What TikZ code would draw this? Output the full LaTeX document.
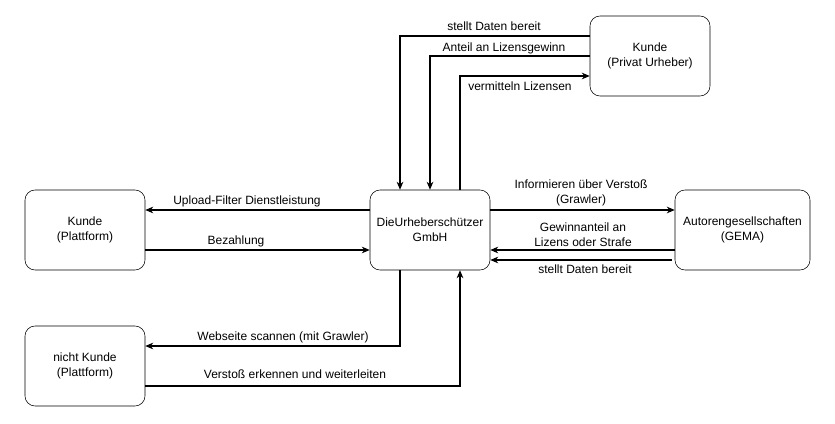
\documentclass[tikz,border=0pt]{standalone}
\usepackage{fontspec}
\setmainfont{Liberation Sans}
\usetikzlibrary{arrows.meta,calc}

\begin{document}
\begin{tikzpicture}[x=0.75pt,y=-0.75pt,
  box/.style={draw,rounded corners=7.5pt,minimum width=90pt,minimum height=60pt,align=center,font=\fontsize{9}{11.25}\selectfont},
  lbl/.style={align=center,inner sep=0pt,font=\fontsize{9}{11.25}\selectfont},
  arr/.style={-{Stealth[length=6pt,width=5pt]},line width=0.8pt}]
\useasboundingbox (0,0) rectangle (835,424);

\node[box] (privat) at (650,56) {Kunde\\(Privat Urheber)};
\node[box] (kp) at (85,230) {Kunde\\(Plattform)};
\node[box] (dus) at (430,230) {DieUrheberschützer\\GmbH};
\node[box,minimum width=101.25pt] (gema) at (742.5,230) {Autorengesellschaften\\(GEMA)};
\node[box] (nk) at (85,366) {nicht Kunde\\(Plattform)};

% oben: Privat Urheber
\draw[arr] ($(privat.west)+(0,-20)$) -| ($(dus.north)+(-30,0)$);
\draw[arr] (privat.west) -| (dus.north);
\draw[arr] ($(dus.north)+(30,0)$) |- ($(privat.west)+(0,20)$);
\node[lbl] (l1) at (494,26) {stellt Daten bereit};
\node[lbl] (l2) at (504,48) {Anteil an Lizensgewinn};
\node[lbl] (l3) at (520,86) {vermitteln Lizensen};

% links: Kunde Plattform
\draw[arr] ($(dus.west)+(0,-20)$) -- ($(kp.east)+(0,-20)$);
\draw[arr] ($(kp.east)+(0,20)$) -- ($(dus.west)+(0,20)$);
\node[lbl] (l4) at (247,201) {Upload-Filter Dienstleistung};
\node[lbl] (l5) at (236,241) {Bezahlung};

% rechts: GEMA
\draw[arr] ($(dus.east)+(0,-20)$) -- ($(gema.west)+(0,-20)$);
\draw[arr] ($(gema.west)+(0,20)$) -- ($(dus.east)+(0,20)$);
\draw[arr] ($(gema.west)+(-3,30)$) -- ($(dus.east)+(0,30)$);
\node[lbl] (l6) at (581,193) {Informieren über Verstoß\\(Grawler)};
\node[lbl] (l7) at (583,235) {Gewinnanteil an\\Lizens oder Strafe};
\node[lbl] (l8) at (585,269) {stellt Daten bereit};

% unten: nicht Kunde
\draw[arr] ($(dus.south)+(-30,0)$) |- ($(nk.east)+(0,-20)$);
\draw[arr] ($(nk.east)+(0,20)$) -| ($(dus.south)+(30,0)$);
\node[lbl] (l9) at (283,337) {Webseite scannen (mit Grawler)};
\node[lbl] (l10) at (295,374) {Verstoß erkennen und weiterleiten};
\end{tikzpicture}
\end{document}
